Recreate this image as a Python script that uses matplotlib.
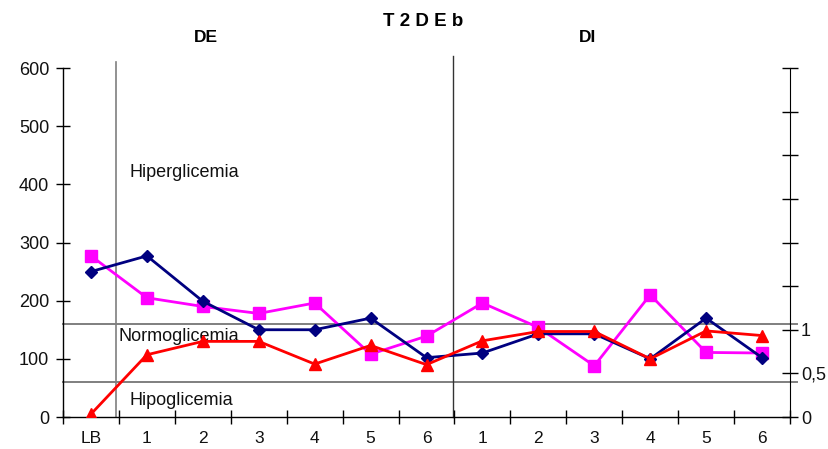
import matplotlib
matplotlib.use("Agg")
import matplotlib.pyplot as plt
from matplotlib.ticker import FixedLocator, FixedFormatter

plt.rcParams['font.family'] = ['Liberation Sans', 'DejaVu Sans']

categories = ["LB", "1", "2", "3", "4", "5", "6", "1", "2", "3", "4", "5", "6"]
serie_azul = [250, 277, 199, 150, 150, 170, 102, 110, 143, 143, 100, 170, 102]
serie_rosa = [277, 205, 190, 178, 196, 108, 139, 196, 154, 88, 210, 111, 110]
serie_roja = [5, 107, 130, 130, 91, 123, 90, 131, 147, 147, 100, 148, 140]
umbral_hiper = 160
umbral_hipo = 60
left_ticks = [0, 100, 200, 300, 400, 500, 600]
right_ticks = [0, 0.5, 1, 1.5, 2, 2.5, 3, 3.5, 4]
right_labels = ["0", "0,5", "1", "", "", "", "", "", ""]

fig = plt.figure(figsize=(8.29, 4.49), dpi=100)
ax = fig.add_axes([63/829, 1-417/449, (790-63)/829, (417-68)/449])
x = list(range(len(categories)))

ax.set_xlim(-0.5, len(categories) - 0.5)
ax.set_ylim(0, 600)

ax.spines['top'].set_visible(False)
ax.spines['right'].set_visible(False)
for s in ['left', 'bottom']:
    ax.spines[s].set_color('black')
    ax.spines[s].set_linewidth(1.0)

ax.set_yticks(left_ticks)
ax.tick_params(axis='y', direction='inout', length=10, width=1, labelsize=13, pad=5, labelcolor='#111111')
ax.set_xticks(x)
ax.set_xticklabels(categories)
ax.tick_params(axis='x', which='major', length=0, labelsize=12.5, pad=10, labelcolor='#111111')
ax.xaxis.set_minor_locator(FixedLocator([i + 0.5 for i in range(-1, len(categories))]))
ax.tick_params(axis='x', which='minor', direction='inout', length=10, width=1)

# threshold lines
ax.plot([-0.5, 12.62], [umbral_hiper, umbral_hiper], color='#7f7f7f', lw=1.4, clip_on=False, zorder=1)
ax.plot([-0.5, 12.62], [umbral_hipo, umbral_hipo], color='#7f7f7f', lw=1.4, clip_on=False, zorder=1)
# separators
ax.plot([0.45, 0.45], [0, 610], color='#7f7f7f', lw=1.2, clip_on=False, zorder=1)
ax.plot([6.48, 6.48], [0, 620], color='#333333', lw=1.0, clip_on=False, zorder=1)

ax.plot(x, serie_rosa, color='#FF00FF', lw=2, marker='s', markersize=8, zorder=3)
ax.plot(x, serie_azul, color='#000080', lw=2, marker='D', markersize=6.5, zorder=4)
ax.plot(x, serie_roja, color='#FF0000', lw=2, marker='^', markersize=8, zorder=5)

ax.text(0.69, 420, "Hiperglicemia", fontsize=13, va='center', ha='left', color='#111111')
ax.text(0.5, 138, "Normoglicemia", fontsize=13, va='center', ha='left', color='#111111')
ax.text(0.69, 29, "Hipoglicemia", fontsize=13, va='center', ha='left', color='#111111')

ax2 = ax.twinx()
ax2.set_ylim(0, 4)
for s in ['top', 'left', 'bottom']:
    ax2.spines[s].set_visible(False)
ax2.spines['right'].set_color('black')
ax2.yaxis.set_major_locator(FixedLocator(right_ticks))
ax2.yaxis.set_major_formatter(FixedFormatter(right_labels))
ax2.tick_params(axis='y', direction='inout', length=12, width=1, labelsize=13, pad=2, labelcolor='#111111')

fig.text(423/829, 1-21/449, "T 2 D E b", fontsize=13.5, fontweight='bold', ha='center', va='center')
fig.text(206/829, 1-37/449, "DE", fontsize=12.5, fontweight='bold', ha='center', va='center')
fig.text(588/829, 1-37/449, "DI", fontsize=12.5, fontweight='bold', ha='center', va='center')

fig.savefig("out.png", dpi=100)
